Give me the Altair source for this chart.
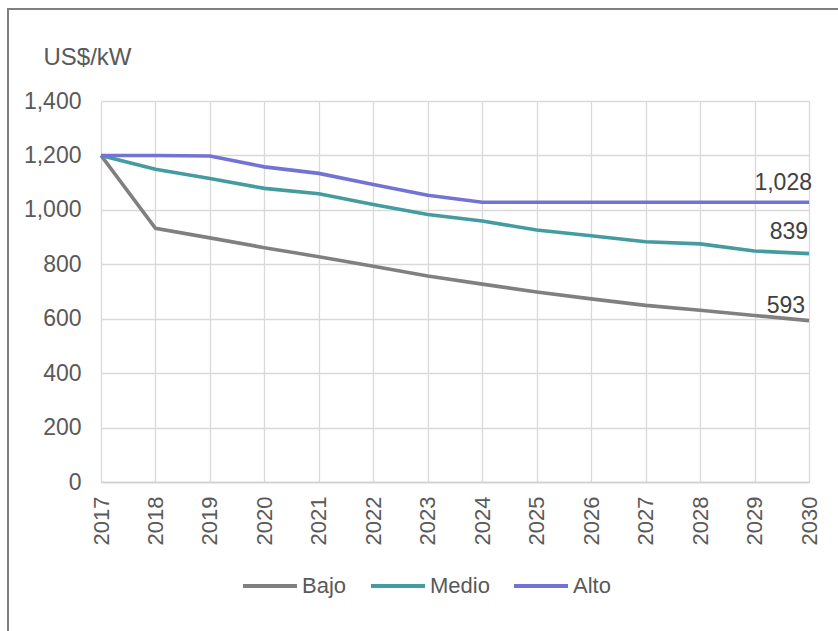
import altair as alt
import pandas as pd

# Costo de inversión proyectado por escenario (US$/kW)
years = list(range(2017, 2031))
bajo = [1200, 932, 897, 861, 828, 793, 757, 727, 698, 673, 649, 631, 612, 593]
medio = [1200, 1149, 1115, 1079, 1059, 1020, 983, 959, 926, 905, 883, 875, 849, 839]
alto = [1200, 1200, 1198, 1158, 1134, 1093, 1054, 1028, 1028, 1028, 1028, 1028, 1028, 1028]

series_names = ["Bajo", "Medio", "Alto"]
series_colors = ["#808080", "#449ba0", "#7373d5"]
y_ticks = [0, 200, 400, 600, 800, 1000, 1200, 1400]

rows = []
for name, vals in zip(series_names, [bajo, medio, alto]):
    for yr, v in zip(years, vals):
        rows.append({"Año": yr, "Valor": v, "Escenario": name})
df = pd.DataFrame(rows)

FONT = "Liberation Sans"
TXT = "#595959"

x_enc = alt.X(
    "Año:Q",
    scale=alt.Scale(domain=[2017, 2030], nice=False, zero=False),
    axis=alt.Axis(
        values=years, format="d", labelAngle=-90, labelFontSize=22,
        labelColor=TXT, labelFont=FONT, labelPadding=14, ticks=False,
        grid=True, gridColor="#d9d9d9", gridWidth=1.3,
        domain=True, domainColor="#d0d0d0", domainWidth=1.5, title=None,
    ),
)
y_enc = alt.Y(
    "Valor:Q",
    scale=alt.Scale(domain=[0, 1400], nice=False),
    axis=alt.Axis(
        values=y_ticks, format=",.0f", labelFontSize=23, labelColor=TXT,
        labelFont=FONT, labelPadding=20, ticks=False, domain=False,
        grid=True, gridColor="#d9d9d9", gridWidth=1.3,
        title="US$/kW", titleAngle=0, titleFontSize=24, titleFontWeight="normal",
        titleColor=TXT, titleFont=FONT, titleAlign="left",
        titleBaseline="alphabetic", titleX=-58, titleY=-37,
    ),
)
color_enc = alt.Color(
    "Escenario:N",
    scale=alt.Scale(domain=series_names, range=series_colors),
    sort=series_names,
    legend=alt.Legend(
        title=None, orient="none", direction="horizontal",
        legendX=140, legendY=456, symbolType="stroke", symbolSize=2916,
        symbolStrokeWidth=4, labelFontSize=22, labelColor=TXT, labelFont=FONT,
        labelOffset=3, columnPadding=16,
    ),
)

lines = alt.Chart(df).mark_line(strokeWidth=3.6).encode(
    x=x_enc, y=y_enc, color=color_enc, order="Año:Q"
)

# Etiquetas del valor final de cada escenario
label_offsets = {"Alto": (3, -19), "Medio": (-1, -22), "Bajo": (-4, -15)}
labels = []
for name in series_names:
    dx, dy = label_offsets[name]
    labels.append(
        alt.Chart(df)
        .transform_filter((alt.datum.Año == 2030) & (alt.datum.Escenario == name))
        .mark_text(align="right", baseline="middle", dx=dx, dy=dy,
                   fontSize=23, font=FONT, color="#404040")
        .encode(x="Año:Q", y="Valor:Q", text=alt.Text("Valor:Q", format=",.0f"))
    )

# Marco exterior del gráfico
frame = alt.Chart(pd.DataFrame({"k": [0]})).mark_rect(
    filled=False, stroke="#808080", strokeWidth=2
).encode(x=alt.value(-93), x2=alt.value(760), y=alt.value(-92), y2=alt.value(560))

chart = alt.layer(frame, lines, *labels).properties(
    width=708, height=381,
    padding={"left": 101, "top": 101, "right": 29, "bottom": 149},
    autosize=alt.AutoSizeParams(type="none"),
    background="white",
).configure_view(stroke=None)

chart.save("out.html", embed_options={"renderer": "svg", "actions": False})
